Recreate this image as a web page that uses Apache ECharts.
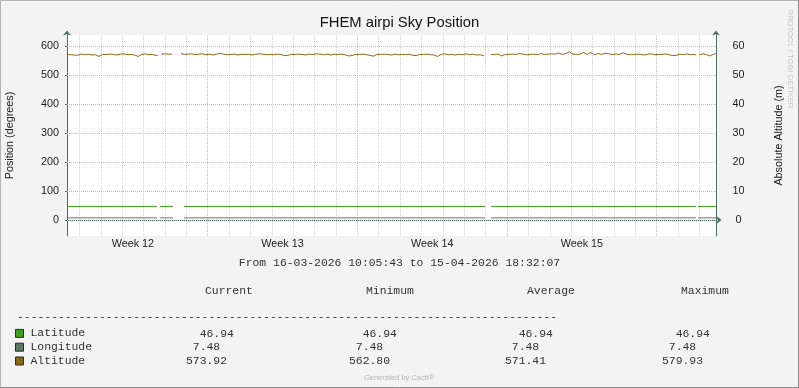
<!DOCTYPE html>
<html><head><meta charset="utf-8">
<script src="https://cdn.jsdelivr.net/npm/echarts@6/dist/echarts.min.js"></script>
<style>html,body{margin:0;padding:0;background:#f3f3f3}#c{width:799px;height:388px}</style>
</head><body><div id="c"></div><script>
// ---- data ----
const chartTitle = 'FHEM airpi Sky Position';
const seriesNames = ['Latitude', 'Longitude', 'Altitude'];
const seriesColors = ['#3f9f1c', '#5c7b5c', '#8b6714'];
// time axis: hours since Mon 16-03-2026 00:00
const tStart = 10.0953;   // 16-03-2026 10:05:43
const tEnd = 738.5353;    // 15-04-2026 18:32:07
const weekLabels = ['Week 12', 'Week 13', 'Week 14', 'Week 15'];
const leftTicks = [0, 100, 200, 300, 400, 500, 600];
const rightTicks = [0, 10, 20, 30, 40, 50, 60];
const latValue = 46.94;
const lonValue = 7.48;
// hours where lat/lon data exists
const latLonSegments = [[10.0953, 111], [114.5, 129], [141.4, 479.3], [486, 716.1], [718.4, 738.5353]];
// altitude samples every 2 hours from hour 10
const altStartHour = 10;
const altStepHours = 2;
const altitude = [
 571,572,570,571,569,565,568,571,572,571,570,571,572,570,569,571,570,566,564,569,
 571,572,571,570,572,573,571,570,569,571,572,574,573,571,570,572,571,570,569,571,
 564,568,571,572,573,571,570,572,571,570,567,569,null,572,576,573,571,572,571,572,
 null,null,null,null,574,572,571,570,572,571,573,572,570,571,572,574,573,571,570,571,
 572,570,569,571,572,573,575,574,572,571,570,572,571,573,572,571,569,570,572,571,
 570,571,572,570,569,571,572,571,573,574,572,571,570,569,571,572,570,571,572,573,
 571,569,567,564,568,570,571,572,571,570,572,573,571,570,569,571,572,570,571,572,
 573,574,572,571,570,571,572,570,569,571,572,573,571,570,572,571,570,568,566,562.8,
 567,570,571,572,571,570,572,571,570,569,568,566,565,569,571,572,571,570,572,573,
 571,570,569,571,572,571,570,572,571,569,570,571,572,570,568,565,567,570,571,572,
 571,570,572,571,570,571,569,567,564,568,571,572,573,571,570,572,571,570,569,571,
 572,571,570,572,573,571,570,571,572,570,569,571,570,568,566,null,null,null,571,572,
 571,570,572,569,566,569,571,572,571,570,572,573,571,572,574,573,572,571,570,572,
 571,573,572,571,570,572,574,573,571,570,572,575,573,571,572,574,576,573,571,572,
 574,577,579.93,575,572,569,571,574,572,576,578,574,571,575,578,573,570,572,574,572,
 571,573,575,577,574,572,570,571,573,572,571,573,576,574,572,571,570,572,571,570,
 572,573,571,570,569,571,572,574,573,571,570,572,571,569,571,572,573,571,570,569,
 567,565,568,571,572,571,570,572,573,571,570,572,571,569,null,570,572,573,571,570,
 568,566,569,572,573.92
];
const statHeaders = ['Current', 'Minimum', 'Average', 'Maximum'];
const statsCurrent = [46.94, 7.48, 573.92];
const statsMinimum = [46.94, 7.48, 562.80];
const statsAverage = [46.94, 7.48, 571.41];
const statsMaximum = [46.94, 7.48, 579.93];
const rangeText = 'From 16-03-2026 10:05:43 to 15-04-2026 18:32:07';

// ---- build ----
const mono = '"Liberation Mono", "DejaVu Sans Mono", monospace';
const sans = '"Liberation Sans", Arial, sans-serif';
const axisColor = '#4d6f62';
const textColor = '#333';

function constSeries(v) {
  const out = [];
  latLonSegments.forEach((s, i) => {
    out.push([s[0], v]); out.push([s[1], v]);
    if (i < latLonSegments.length - 1) out.push([(s[1] + latLonSegments[i + 1][0]) / 2, '-']);
  });
  return out;
}
const altData = altitude.map((v, i) => [altStartHour + i * altStepHours, v === null ? '-' : v]);

const dayHours = []; const mondayHours = [];
for (let d = 1; d * 24 < tEnd; d++) { (d % 7 === 0 ? mondayHours : dayHours).push(d * 24); }
const allDays = dayHours.concat(mondayHours).sort((a, b) => a - b);
const weekCenters = weekLabels.map((w, i) => 84 + 168 * i);

const gridMarks = {
  silent: true, symbol: 'none', z: 1, animation: false,
  label: { show: false },
  data: [
    ...dayHours.map(h => ({ xAxis: h, lineStyle: { color: '#d2d2d2', type: [1, 1], width: 1 } })),
    ...mondayHours.map(h => ({ xAxis: h, lineStyle: { color: '#e8b0b0', type: [1, 1], width: 1 } })),
    ...leftTicks.map(v => ({ yAxis: v, lineStyle: { color: '#e8b0b0', type: [1, 1], width: 1 } }))
  ]
};

const graphics = [];
graphics.push({ type: 'rect', shape: { x: 0.5, y: 0.5, width: 798, height: 387 }, style: { fill: 'none', stroke: '#b4b4b4', lineWidth: 1 }, z: 100 });
graphics.push({ type: 'line', shape: { x1: 0, y1: 387.5, x2: 799, y2: 387.5 }, style: { stroke: '#8a8a8a', lineWidth: 1 }, z: 101 });
graphics.push({ type: 'line', shape: { x1: 798.5, y1: 0, x2: 798.5, y2: 388 }, style: { stroke: '#8a8a8a', lineWidth: 1 }, z: 101 });
function txt(text, x, y, font, fill, align, rot) {
  return { type: 'text', x: x, y: y, rotation: rot || 0,
    style: { text: text, font: font, fill: fill, align: align || 'left', textAlign: align || 'left', verticalAlign: 'middle', textVerticalAlign: 'middle' }, z: 50 };
}
graphics.push(txt('RRDTOOL / TOBI OETIKER', 790, 59, '7.8px ' + sans, '#c4c4c4', 'center', -Math.PI / 2));
graphics.push(txt(rangeText, 399.5, 263, '11.4px ' + mono, textColor, 'center'));
const headerX = [205, 366, 527, 681];
statHeaders.forEach((h, i) => graphics.push(txt(h, headerX[i], 291, '11.4px ' + mono, textColor)));
graphics.push(txt('-'.repeat(79), 17, 317, '11.4px ' + mono, textColor));
const colX = [186, 349, 505, 662];
const rowY = [333.5, 347.2, 361];
const rowPad = [2, 1, 0];
[statsCurrent, statsMinimum, statsAverage, statsMaximum].forEach((col, ci) => {
  col.forEach((v, ri) => graphics.push(txt(' '.repeat(rowPad[ri]) + v.toFixed(2), colX[ci], rowY[ri], '11.4px ' + mono, textColor)));
});
graphics.push(txt('Generated by Cacti\u00ae', 399, 378, '7.5px ' + sans, '#b4b4b4', 'center'));

const option = {
  animation: false,
  backgroundColor: '#f3f3f3',
  title: { text: chartTitle, left: 'center', top: 15, padding: 0,
    textStyle: { fontFamily: sans, fontSize: 14.8, fontWeight: 'normal', color: '#111' } },
  legend: {
    data: seriesNames, orient: 'vertical', left: 15, top: 326.5, padding: 0, itemGap: 0,
    itemWidth: 8, itemHeight: 8, icon: 'rect',
    itemStyle: { borderColor: '#2b2b2b', borderWidth: 1 },
    textStyle: { fontFamily: mono, fontSize: 11.4, color: textColor, lineHeight: 13.8, padding: [0, 0, 0, 2] },
    selectedMode: false
  },
  grid: { left: 67, right: 83, top: 35, bottom: 152, show: true, backgroundColor: '#ffffff', borderWidth: 0,
    containLabel: false, outerBoundsMode: 'none' },
  xAxis: {
    type: 'value', min: tStart, max: tEnd,
    axisLine: { show: true, lineStyle: { color: axisColor, width: 1 }, symbol: ['none', 'arrow'], symbolSize: [6, 5], symbolOffset: [0, 5.5] },
    axisTick: { show: true, customValues: allDays, length: 2, lineStyle: { color: axisColor } },
    axisLabel: { customValues: weekCenters, formatter: v => weekLabels[weekCenters.indexOf(Math.round(v))] || '',
      fontFamily: sans, fontSize: 10.8, color: '#222', margin: 3 },
    splitLine: { show: false }
  },
  yAxis: [
    { type: 'value', position: 'left', min: -55, max: 638,
      name: 'Position (degrees)', nameLocation: 'middle', nameGap: 51, nameRotate: 90,
      nameTextStyle: { fontFamily: sans, fontSize: 10.8, color: '#222' },
      axisLine: { show: true, lineStyle: { color: axisColor, width: 1 }, symbol: ['none', 'arrow'], symbolSize: [6, 5], symbolOffset: [0, 4.5] },
      axisTick: { show: true, customValues: leftTicks, length: 2, lineStyle: { color: axisColor } },
      axisLabel: { customValues: leftTicks, fontFamily: sans, fontSize: 10.8, color: '#222', margin: 8 },
      splitLine: { show: false } },
    { type: 'value', position: 'right', min: -5.5, max: 63.8,
      name: 'Absolute Altitude (m)', nameLocation: 'middle', nameGap: 58, nameRotate: 90,
      nameTextStyle: { fontFamily: sans, fontSize: 10.8, color: '#222' },
      axisLine: { show: true, lineStyle: { color: axisColor, width: 1 }, symbol: ['none', 'arrow'], symbolSize: [6, 5], symbolOffset: [0, 4.5] },
      axisTick: { show: false },
      axisLabel: { customValues: rightTicks, fontFamily: sans, fontSize: 10.8, color: '#222', margin: 22.5, align: 'center' },
      splitLine: { show: false } }
  ],
  graphic: graphics,
  series: [
    { name: '__grid', type: 'line', data: [], z: 1, markLine: gridMarks, silent: true },
    { name: seriesNames[0], type: 'line', data: constSeries(latValue), showSymbol: false, symbol: 'none', z: 3,
      lineStyle: { color: seriesColors[0], width: 1 }, itemStyle: { color: seriesColors[0] }, connectNulls: false },
    { name: seriesNames[1], type: 'line', data: constSeries(lonValue), showSymbol: false, symbol: 'none', z: 3,
      lineStyle: { color: seriesColors[1], width: 1 }, itemStyle: { color: seriesColors[1] }, connectNulls: false },
    { name: seriesNames[2], type: 'line', data: altData, showSymbol: false, symbol: 'none', z: 3,
      lineStyle: { color: seriesColors[2], width: 1 }, itemStyle: { color: seriesColors[2] }, connectNulls: false }
  ]
};
const chart = echarts.init(document.getElementById('c'), null, { renderer: 'canvas' });
chart.setOption(option);
</script></body></html>
